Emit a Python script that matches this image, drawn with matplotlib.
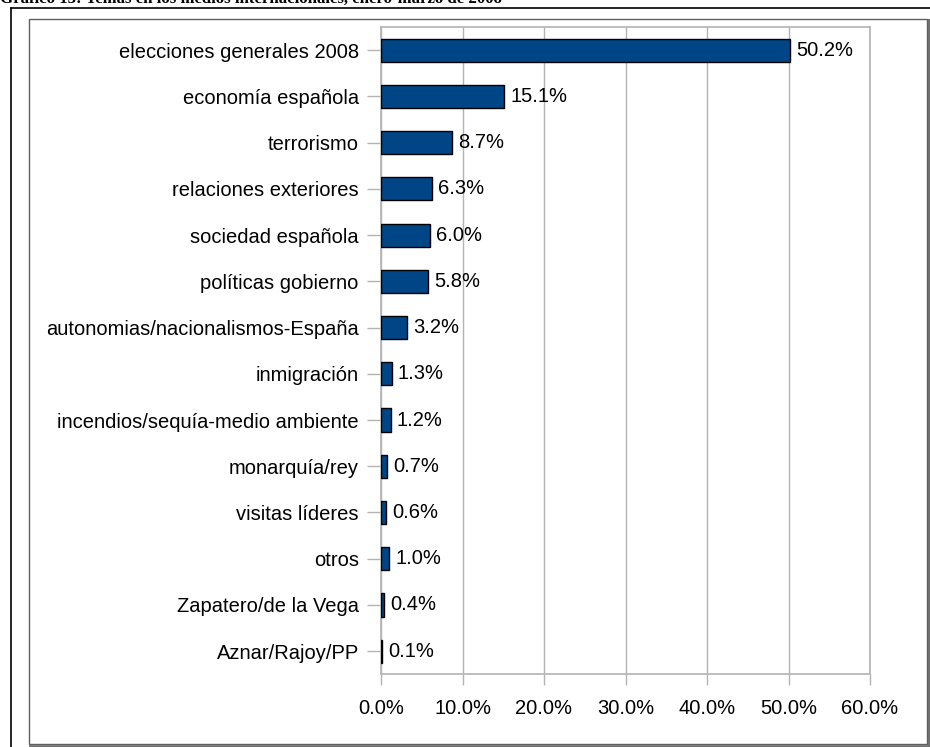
import matplotlib
matplotlib.use("Agg")
import matplotlib.pyplot as plt
from matplotlib.patches import Rectangle
from matplotlib.lines import Line2D

categories = [
    "elecciones generales 2008",
    "economía española",
    "terrorismo",
    "relaciones exteriores",
    "sociedad española",
    "políticas gobierno",
    "autonomias/nacionalismos-España",
    "inmigración",
    "incendios/sequía-medio ambiente",
    "monarquía/rey",
    "visitas líderes",
    "otros",
    "Zapatero/de la Vega",
    "Aznar/Rajoy/PP",
]
values = [50.2, 15.1, 8.7, 6.3, 6.0, 5.8, 3.2, 1.3, 1.2, 0.7, 0.6, 1.0, 0.4, 0.1]
xticks = [0, 10, 20, 30, 40, 50, 60]
xtick_labels = ["0.0%", "10.0%", "20.0%", "30.0%", "40.0%", "50.0%", "60.0%"]
title = "Gráfico 13: Temas en los medios internacionales, enero-marzo de 2008"

W, H = 930, 747
plt.rcParams['font.family'] = ['Liberation Sans', 'DejaVu Sans']
fig = plt.figure(figsize=(W / 100, H / 100), dpi=100)

def fx(px):
    return px / W

def fy(py):
    return 1 - py / H

# outer lines (page frame)
fig.add_artist(Line2D([fx(11), fx(930)], [fy(8), fy(8)], color='black', lw=1.2, transform=fig.transFigure))
fig.add_artist(Line2D([fx(11), fx(11)], [fy(8), fy(747)], color='black', lw=1.2, transform=fig.transFigure))
# inner chart box with shadow
fig.add_artist(Line2D([fx(30), fx(929)], [fy(745.5), fy(745.5)], color='#707070', lw=2, transform=fig.transFigure))
fig.add_artist(Line2D([fx(928.5), fx(928.5)], [fy(20), fy(746)], color='#707070', lw=1.5, transform=fig.transFigure))
fig.add_artist(Rectangle((fx(29), fy(744)), fx(927) - fx(29), fy(19) - fy(744),
                         fill=False, edgecolor='#606060', lw=1, transform=fig.transFigure))

# title (cut at top, as in the reference)
fig.text(0, fy(3.3), title, family='Liberation Serif', weight='bold', fontsize=12.1,
         ha='left', va='baseline')

ax = fig.add_axes([fx(381), fy(674.3), fx(870) - fx(381), fy(27) - fy(674.3)])
y = list(range(len(categories)))
ax.barh(y, values, height=0.5, color='#004586', edgecolor='black', linewidth=1, zorder=3)
ax.set_ylim(len(categories) - 0.5, -0.5)
ax.set_xlim(0, 60)
ax.set_yticks(y)
ax.set_yticklabels(categories, fontsize=14.5)
ax.set_xticks(xticks)
ax.set_xticklabels(xtick_labels, fontsize=14.5)
ax.xaxis.grid(True, color='#b3b3b3', lw=1, zorder=0)
for s in ax.spines.values():
    s.set_color('#b3b3b3')
    s.set_linewidth(1.2)
ax.tick_params(axis='y', length=10, width=1, color='#b3b3b3', pad=6)
ax.tick_params(axis='x', length=8, width=1, color='#b3b3b3', pad=10)
for yi, v in zip(y, values):
    ax.text(v + 0.75, yi, f"{v:.1f}%", va='center', ha='left', fontsize=14.5)

fig.savefig("out.png", dpi=100)
